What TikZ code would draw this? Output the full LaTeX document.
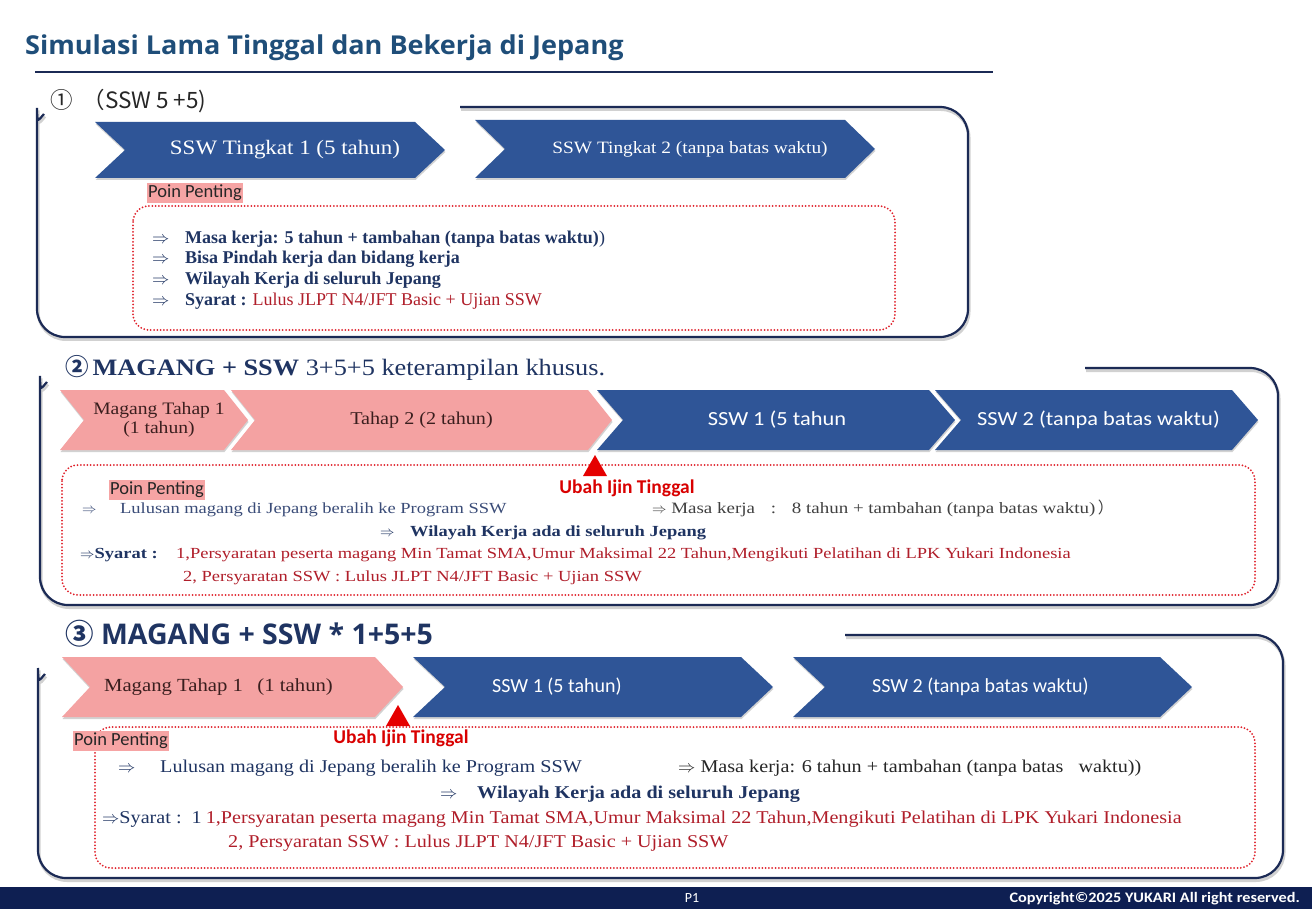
\documentclass[tikz,border=0pt]{standalone}
\usepackage{fontspec}
\setmainfont{Liberation Serif}
\newfontfamily\serw[FakeStretch=1.2]{Liberation Serif}
\newfontfamily\serx[FakeStretch=1.12]{Liberation Serif}
\newfontfamily\calib{Carlito}
\newfontfamily\calibw[FakeStretch=1.12]{Carlito}
\newfontfamily\cjk{Noto Sans CJK JP}
\newfontfamily\hsans{Open Sans}
\newfontfamily\hsansw[FakeStretch=1.04]{Open Sans}
\usetikzlibrary{shadows}

\definecolor{navy}{HTML}{1F3462}
\definecolor{chevblue}{HTML}{2F5597}
\definecolor{chevpink}{HTML}{F4A2A2}
\definecolor{framec}{HTML}{1B2A55}
\definecolor{dotred}{HTML}{E0202A}
\definecolor{darkred}{HTML}{B01E2A}
\definecolor{titleblue}{HTML}{1F4E79}
\definecolor{footc}{HTML}{0E1F52}
\definecolor{labelpink}{HTML}{F6A4A4}
\definecolor{softnavy}{HTML}{3A4C78}
\definecolor{pinktext}{HTML}{3A1E1E}

\tikzset{
  frame/.style={draw=framec, line width=2.2pt, rounded corners=28pt,
    preaction={draw=black!18, line width=3pt, transform canvas={shift={(1pt,-2.5pt)}}}},
  dotbox/.style={draw=dotred, line width=2pt, dash pattern=on 0pt off 3.3pt, line cap=round, rounded corners=16pt},
  chevshadow/.style={drop shadow={shadow xshift=0.5pt, shadow yshift=-2pt, opacity=0.35}},
  bluechev/.style={fill=chevblue, chevshadow},
  pinkchev/.style={fill=chevpink, chevshadow},
  whitesans/.style={text=white, font=\calibw\fontsize{20}{20}\selectfont, inner sep=0pt},
  whiteserif/.style={text=white, inner sep=0pt},
  pinkserif/.style={text=pinktext, inner sep=0pt, align=center},
  poin/.style={fill=labelpink, text=black!85, font=\calib\fontsize{18.5}{18.5}\selectfont, inner xsep=1.5pt, inner ysep=2pt},
  ubah/.style={text=red!85!black, font=\calib\bfseries\fontsize{19.5}{19.5}\selectfont, inner sep=0pt},
  tri/.style={fill=red!90!black},
  txt/.style={anchor=base west, inner sep=0pt},
}

% chevron: name, shape style, text style, x left, x tip, y top, y bottom, point depth, text
\newcommand\chev[9]{%
  \path[#2] (#4,#6) -- ({#5-#8},#6) -- (#5,{(#6+#7)/2}) -- ({#5-#8},#7) -- (#4,#7) -- ({#4+#8},{(#6+#7)/2}) -- cycle;
  \node[#3] (#1) at ({(#4+#5+#8)/2},{(#6+#7)/2}) {#9};}

\begin{document}
\begin{tikzpicture}[x=1pt,y=-1pt]
\fill[white] (0,0) rectangle (1312,909);
\useasboundingbox (0,0) rectangle (1312,909);

% title
\node[txt, text=titleblue, font=\hsansw\bfseries\fontsize{26}{26}\selectfont] (title) at (25,55) {Simulasi Lama Tinggal dan Bekerja di Jepang};
\coordinate (ruleL) at (35,72);
\coordinate (ruleR) at (993,72);
\draw[framec, line width=2pt] (ruleL) -- (ruleR);

% ---------- 1 ----------
\node[txt, text=black!85, font=\cjk\fontsize{22.5}{22.5}\selectfont] (h1) at (50,109) {①\hspace{10pt}（SSW 5 +5)};
\draw[frame] (460,107) -- (968,107) -- (968,337) -- (37,337) -- (37,136) .. controls (37,126) and (39,119) .. (44,114);

\chev{c1a}{bluechev}{whiteserif, font=\serx\fontsize{20.5}{20.5}\selectfont}{95}{445}{122}{178}{30}{SSW Tingkat 1 (5 tahun)}
\chev{c1b}{bluechev}{whiteserif, font=\serx\fontsize{17.3}{17.3}\selectfont}{475}{875}{120}{178}{30}{SSW Tingkat 2 (tanpa batas waktu)}

\draw[dotbox] (133,206) rectangle (895,330);
\node[poin] (p1) at (195,193) {Poin Penting};

\begin{scope}[every node/.append style={txt, text=navy, font=\bfseries\fontsize{18}{18}\selectfont}]
\node (a11) at (152,244) {$\Rightarrow$};
\node (t11) at (185,244) {Masa kerja: 5 tahun + tambahan (tanpa batas waktu)\mdseries)};
\node (a12) at (152,264) {$\Rightarrow$};
\node (t12) at (185,264) {Bisa Pindah kerja dan bidang kerja};
\node (a13) at (152,285) {$\Rightarrow$};
\node (t13) at (185,285) {Wilayah Kerja di seluruh Jepang};
\node (a14) at (152,306) {$\Rightarrow$};
\node (t14) at (185,306) {Syarat : \mdseries\color{darkred}Lulus JLPT N4/JFT Basic + Ujian SSW};
\end{scope}

% ---------- 2 ----------
\node[txt, text=navy, font=\serx\fontsize{23.5}{23.5}\selectfont] (h2) at (65,375) {{\cjk\bfseries ②}\,{\bfseries MAGANG + SSW} 3+5+5 keterampilan khusus.};
\draw[frame] (1085,368) -- (1278,368) -- (1278,605) -- (40,605) -- (40,404) .. controls (40,394) and (42,387) .. (47,382);

\chev{c2a}{pinkchev}{pinkserif, font=\serx\fontsize{17.5}{19}\selectfont, xshift=-7pt}{60}{248}{390}{450}{24}{Magang Tahap 1\\(1 tahun)}
\chev{c2b}{pinkchev}{pinkserif, font=\serx\fontsize{18}{18}\selectfont, xshift=-12pt}{231}{612}{390}{450}{24}{Tahap 2 (2 tahun)}
\chev{c2c}{bluechev}{whitesans, xshift=-12pt}{597}{955}{390}{450}{26}{SSW 1 (5 tahun}
\chev{c2d}{bluechev}{whitesans, xshift=-11pt}{935}{1258}{390}{450}{26}{SSW 2 (tanpa batas waktu)}

\draw[dotbox] (62,465) rectangle (1255,595);
\path[tri] (595,455) -- (607,476) -- (583,476) -- cycle;
\node[ubah] (u2) at (627,488) {Ubah Ijin Tinggal};
\node[poin] (p2) at (157,490) {Poin Penting};

\begin{scope}[every node/.append style={txt, font=\serw\fontsize{15.4}{15.4}\selectfont}]
\node[text=softnavy] (a21) at (82,513) {$\Rightarrow$};
\node[text=softnavy] (t21) at (120,513) {Lulusan magang di Jepang beralih ke Program SSW};
\node[text=black!75, font=\serw\fontsize{15.8}{15.8}\selectfont] (t22) at (652,513) {$\Rightarrow$ Masa kerja\quad:\quad 8 tahun + tambahan (tanpa batas waktu)\,{\cjk ）}};
\node[text=navy] (a23) at (380,536) {$\Rightarrow$};
\node[text=navy, font=\serw\bfseries\fontsize{15.4}{15.4}\selectfont] (t23) at (410,536) {Wilayah Kerja ada di seluruh Jepang};
\node[text=navy, font=\serw\bfseries\fontsize{15.4}{15.4}\selectfont] (a24) at (80,558) {$\Rightarrow$Syarat :};
\node[text=darkred] (t24) at (176,558) {1,Persyaratan peserta magang Min Tamat SMA,Umur Maksimal 22 Tahun,Mengikuti Pelatihan di LPK Yukari Indonesia};
\node[text=darkred] (t25) at (183,581) {2, Persyaratan SSW : Lulus JLPT N4/JFT Basic + Ujian SSW};
\end{scope}

% ---------- 3 ----------
\node[txt, text=navy, font=\hsans\bfseries\fontsize{28.5}{28.5}\selectfont] (h3) at (65,644) {{\cjk\bfseries ③} MAGANG + SSW * 1+5+5};
\draw[frame] (845,635) -- (1283,635) -- (1283,878) -- (38,878) -- (38,696) .. controls (38,686) and (40,679) .. (45,674);

\chev{c3a}{pinkchev}{pinkserif, font=\serx\fontsize{18.5}{18.5}\selectfont, xshift=-28pt}{62}{403}{657}{717}{28}{Magang Tahap 1\enspace\ (1 tahun)}
\chev{c3b}{bluechev}{whitesans, font=\calib\fontsize{20}{20}\selectfont, xshift=-52pt}{413}{773}{657}{717}{32}{SSW 1 (5 tahun)}
\chev{c3c}{bluechev}{whitesans, font=\calib\fontsize{20}{20}\selectfont, xshift=-28pt}{793}{1192}{657}{717}{32}{SSW 2 (tanpa batas waktu)}

\draw[dotbox] (95,727) rectangle (1255,868);
\path[tri] (398,705) -- (410,726) -- (386,726) -- cycle;
\node[ubah] (u3) at (401,738) {Ubah Ijin Tinggal};
\node[poin] (p3) at (121,741) {Poin Penting};

\begin{scope}[every node/.append style={txt, font=\serx\fontsize{18}{18}\selectfont}]
\node[text=navy] (a31) at (118,772) {$\Rightarrow$};
\node[text=navy] (t31) at (160,772) {Lulusan magang di Jepang beralih ke Program SSW};
\node[text=black!85] (t32) at (678,772) {$\Rightarrow$ Masa kerja: 6 tahun + tambahan (tanpa batas\ \ \ waktu))};
\node[text=navy] (a33) at (440,798) {$\Rightarrow$};
\node[text=navy, font=\serx\bfseries\fontsize{18}{18}\selectfont] (t33) at (477,798) {Wilayah Kerja ada di seluruh Jepang};
\node[text=navy] (t34) at (102,823) {$\Rightarrow$Syarat :\ \ 1\hspace{4pt}{\color{darkred}1,Persyaratan peserta magang Min Tamat SMA,Umur Maksimal 22 Tahun,Mengikuti Pelatihan di LPK Yukari Indonesia}};
\node[text=darkred] (t35) at (228,847) {2, Persyaratan SSW : Lulus JLPT N4/JFT Basic + Ujian SSW};
\end{scope}

% footer
\fill[footc] (0,887) rectangle (1312,909);
\node[text=white, font=\calib\fontsize{14}{14}\selectfont, inner sep=0pt] (pg) at (692,898) {P1};
\node[text=white, font=\calibw\bfseries\fontsize{14.5}{14.5}\selectfont, inner sep=0pt, anchor=east] (copy) at (1300,899) {Copyright©2025 YUKARI All right reserved.};
\end{tikzpicture}
\end{document}
